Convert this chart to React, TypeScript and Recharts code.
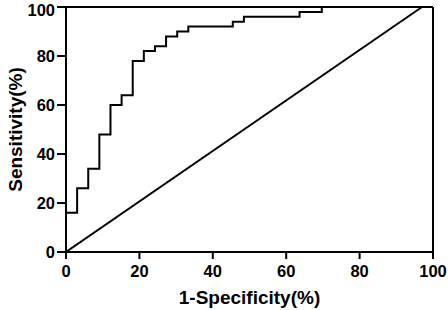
import React from 'react';
import { LineChart, Line, XAxis, YAxis, ReferenceLine } from 'recharts';

// ROC curve (1-specificity %, sensitivity %)
const fprValues = [0, 0, 3.03, 6.06, 9.09, 12.12, 15.15, 18.18, 21.21, 24.24, 27.27, 30.3, 33.33, 45.45, 48.48, 63.64, 69.7, 100];
const tprValues = [0, 16, 26, 34, 48, 60, 64, 78, 82, 84, 88, 90, 92, 94, 96, 98, 100, 100];

// reference diagonal as drawn in the original
const diagX = [0, 97];
const diagY = [0, 100];

const xTicks = [0, 20, 40, 60, 80, 100];
const yTicks = [0, 20, 40, 60, 80, 100];

const rocData = fprValues.map((x, i) => ({ x, y: tprValues[i] }));
const diagData = diagX.map((x, i) => ({ x, y: diagY[i] }));

const FONT = '"Liberation Sans", Arial, sans-serif';
const tickStyle = { fontSize: 16.5, fontWeight: 700, fill: '#000', fontFamily: FONT };
const titleStyle = { fontSize: 19, fontWeight: 700, fill: '#000', fontFamily: FONT };

export default function App() {
  return (
    <div style={{ position: 'absolute', left: 0, top: 0, width: 448, height: 310, background: '#fff' }}>
      <LineChart width={448} height={310} margin={{ top: 7, right: 15, left: 0, bottom: 0 }}>
        <XAxis
          type="number"
          dataKey="x"
          domain={[0, 100]}
          ticks={xTicks}
          allowDataOverflow
          stroke="#000"
          strokeWidth={2}
          tickSize={7}
          tickMargin={6}
          tick={tickStyle}
          height={58}
          label={{ value: '1-Specificity(%)', position: 'insideBottom', offset: 6, style: titleStyle }}
        />
        <YAxis
          type="number"
          dataKey="y"
          domain={[0, 100]}
          ticks={yTicks}
          stroke="#000"
          strokeWidth={2}
          tickSize={9}
          tickMargin={2}
          tick={tickStyle}
          width={66}
          label={{ value: 'Sensitivity(%)', angle: -90, position: 'insideLeft', offset: 15, style: { ...titleStyle, textAnchor: 'middle' } }}
        />
        <ReferenceLine y={100} stroke="#000" strokeWidth={2} />
        <ReferenceLine x={100} stroke="#000" strokeWidth={2} />
        <Line data={diagData} dataKey="y" type="linear" stroke="#000" strokeWidth={2} dot={false} isAnimationActive={false} />
        <Line data={rocData} dataKey="y" type="stepAfter" stroke="#000" strokeWidth={2} dot={false} isAnimationActive={false} />
      </LineChart>
    </div>
  );
}
